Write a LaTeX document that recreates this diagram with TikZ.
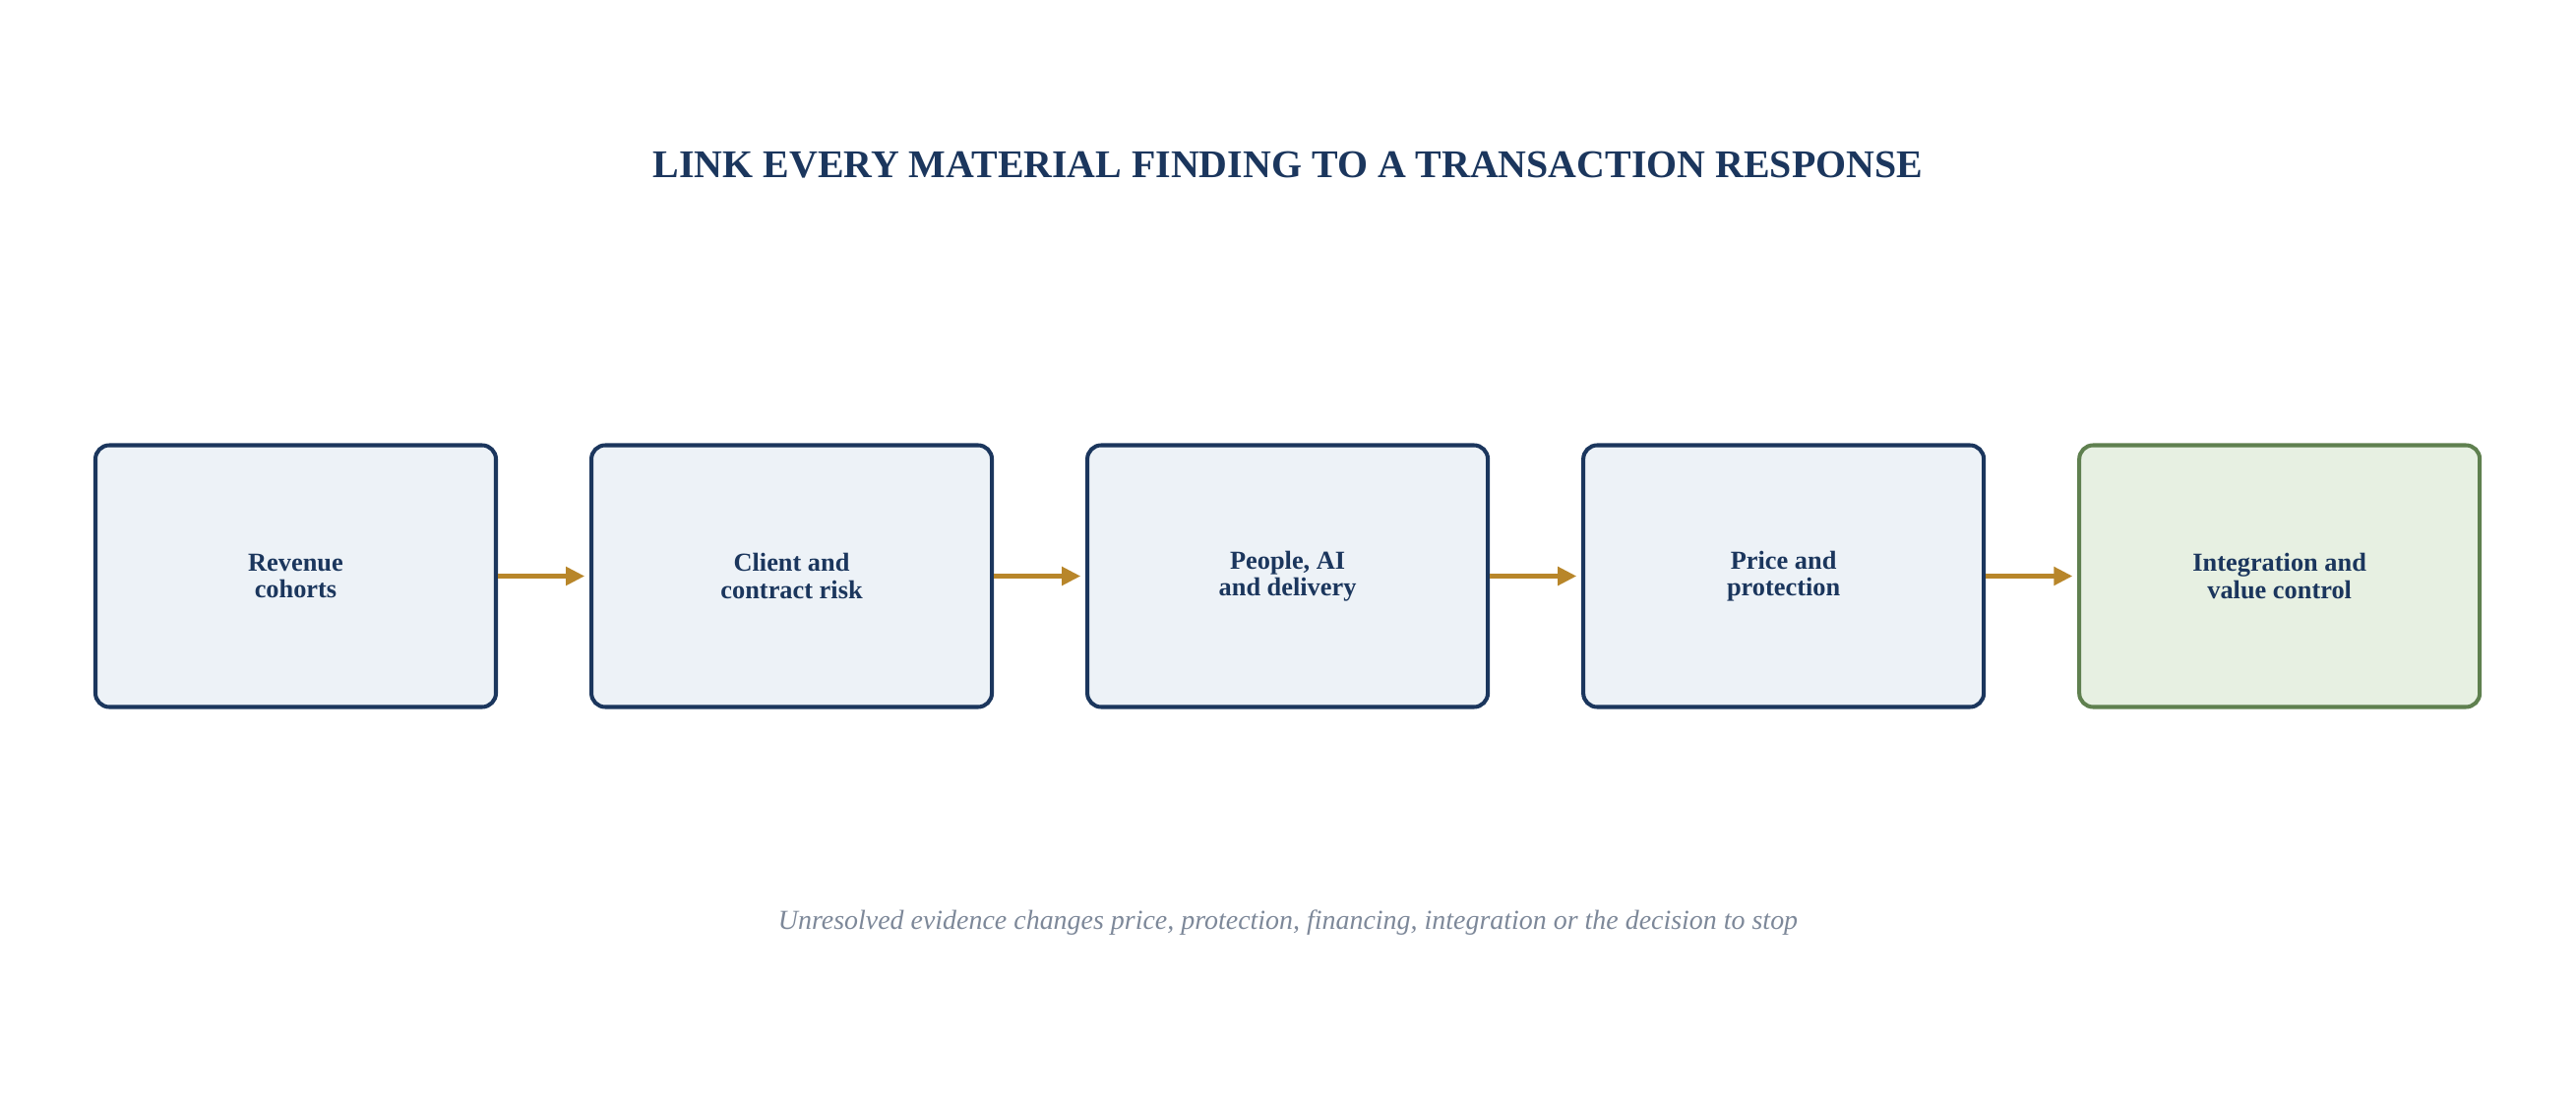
\documentclass[tikz,border=0pt]{standalone}
\usepackage{fontspec}
\setmainfont{Liberation Serif}
\usetikzlibrary{arrows.meta, positioning}

\definecolor{navy}{HTML}{1B365D}
\definecolor{paleblue}{HTML}{EDF2F7}
\definecolor{sage}{HTML}{5F804F}
\definecolor{palegreen}{HTML}{E7F0E2}
\definecolor{gold}{HTML}{B8862A}
\definecolor{slate}{HTML}{7D8899}

\begin{document}
\begin{tikzpicture}[
    node distance=0.93cm,
    stage/.style={rectangle, rounded corners=4pt, draw=navy, fill=paleblue, line width=1.15pt,
        minimum width=4.07cm, minimum height=2.66cm, align=center, text=navy,
        font=\fontsize{7.5}{7.7}\selectfont\bfseries},
    final/.style={stage, draw=sage, fill=palegreen},
    flow/.style={-{Triangle[length=5.4pt, width=5.2pt]}, line width=1.25pt, draw=gold, shorten >=1.4pt}
]
\useasboundingbox (0,0) rectangle (26.18,11.22);

% title
\node[anchor=base, text=navy, font=\fontsize{11.35}{13}\selectfont\bfseries] (title) at (13.09,9.41)
    {LINK EVERY MATERIAL FINDING TO A TRANSACTION RESPONSE};

% stages
\node[stage] (revenue) at (3.005,5.365) {Revenue\\cohorts};
\node[stage, right=of revenue] (client) {Client and\\contract risk};
\node[stage, right=of client] (people) {People, AI\\and delivery};
\node[stage, right=of people] (price) {Price and\\protection};
\node[final, right=of price] (integration) {Integration and\\value control};

% arrows
\draw[flow] (revenue) -- (client);
\draw[flow] (client) -- (people);
\draw[flow] (people) -- (price);
\draw[flow] (price) -- (integration);

% footer
\node[anchor=base, text=slate, font=\fontsize{7.95}{9}\selectfont\itshape] (note) at (13.09,1.78)
    {Unresolved evidence changes price, protection, financing, integration or the decision to stop};

\end{tikzpicture}
\end{document}
